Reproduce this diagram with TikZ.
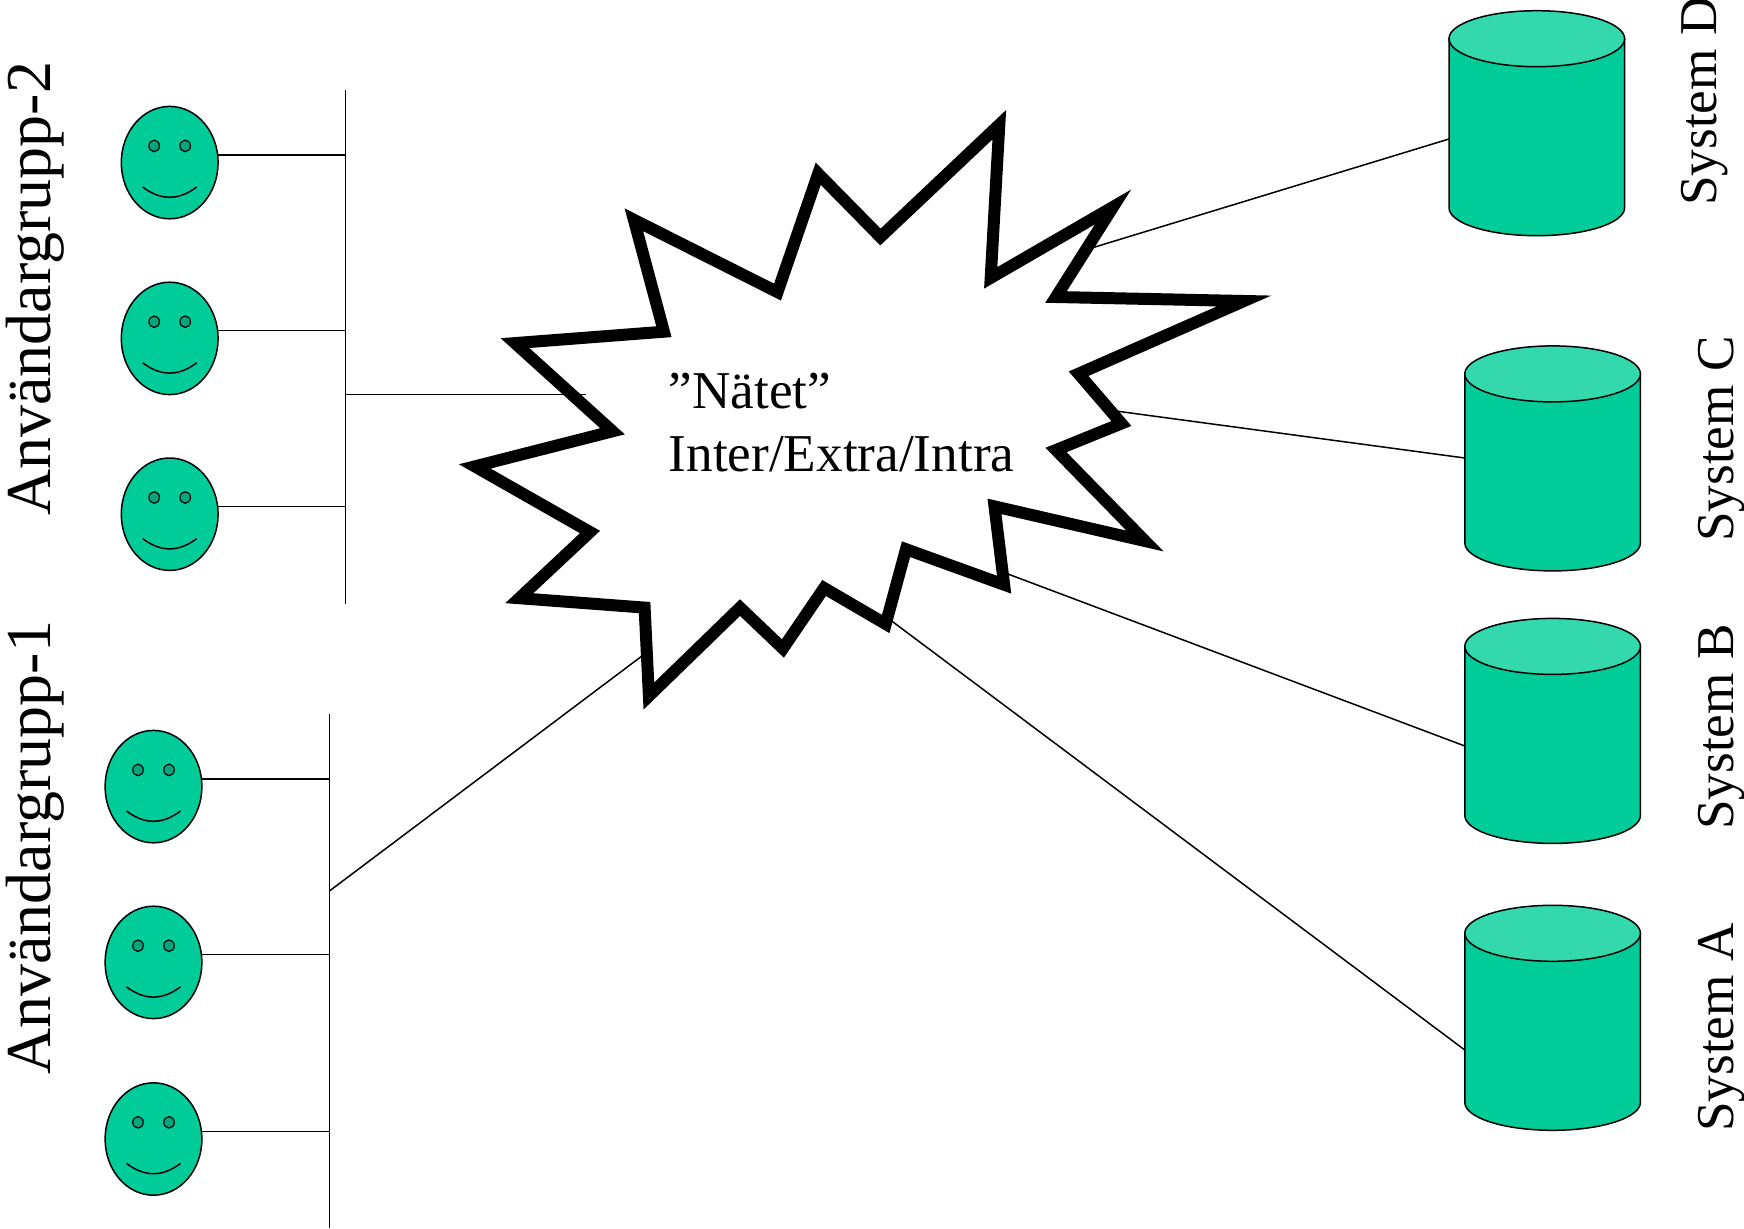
\documentclass[tikz,border=0pt]{standalone}
\usepackage{fontspec}
\setmainfont{Liberation Serif}
\usetikzlibrary{shapes.geometric}
\definecolor{bodygreen}{HTML}{00CC99}
\definecolor{topgreen}{HTML}{33D9AD}
\definecolor{eyegreen}{HTML}{00A67C}
\tikzset{
  wire/.style={black,line width=1.5pt},
  facebody/.style={ellipse,draw=black,fill=bodygreen,line width=1.5pt,minimum width=96.8pt,minimum height=112.4pt,inner sep=0pt},
  eyeball/.style={ellipse,draw=black,fill=eyegreen,line width=1.2pt,minimum width=10.5pt,minimum height=11.5pt,inner sep=0pt},
  cylbody/.style={fill=bodygreen,draw=black,line width=1.5pt},
  cyltop/.style={fill=topgreen,draw=black,line width=1.5pt},
  burst/.style={fill=white,draw=black,line width=12pt,miter limit=20,line join=miter},
  biglabel/.style={font=\fontsize{64}{70}\selectfont,rotate=90,anchor=base west,inner sep=0pt},
  syslabel/.style={font=\fontsize{53.2}{60}\selectfont,rotate=90,anchor=base west,inner sep=0pt},
  nettext/.style={font=\fontsize{53.2}{63}\selectfont,align=left,anchor=west,inner sep=0pt}
}
% face: name, x, y
\newcommand{\SmileFace}[3]{%
  \node[facebody] (#1) at (#2,#3) {};
  \node[eyeball] (#1el) at ([shift={(-15.5,-16.7)}]#1.center) {};
  \node[eyeball] (#1er) at ([shift={(15.5,-16.7)}]#1.center) {};
  \coordinate (#1ma) at ([shift={(-27,24.4)}]#1.center);
  \coordinate (#1ca) at ([shift={(-9,38.1)}]#1.center);
  \coordinate (#1cb) at ([shift={(9,38.1)}]#1.center);
  \coordinate (#1mb) at ([shift={(27,24.4)}]#1.center);
  \draw[wire] (#1ma) .. controls (#1ca) and (#1cb) .. (#1mb);
}
% cylinder: name, centre x, top y of the shape
\newcommand{\DataCyl}[3]{%
  \coordinate (#1) at (#2,#3+28);
  \coordinate (#1b) at (#2,#3+197);
  \draw[cylbody] ([xshift=-87.8pt]#1) -- ([xshift=-87.8pt]#1b)
     arc[start angle=180,end angle=360,x radius=87.8pt,y radius=28pt] -- ([xshift=87.8pt]#1) -- cycle;
  \draw[cyltop] (#1) ellipse[x radius=87.8pt,y radius=28pt];
}
\begin{document}
\begin{tikzpicture}[x=1pt,y=-1pt]
\useasboundingbox (0,0) rectangle (1744,1228);

% buses
\coordinate (busTwoTop) at (345.3,90);
\coordinate (busTwoBot) at (345.3,604);
\coordinate (busOneTop) at (329.4,714);
\coordinate (busOneBot) at (329.4,1228);
\draw[wire] (busTwoTop) -- (busTwoBot);
\draw[wire] (busOneTop) -- (busOneBot);

% faces
\SmileFace{fa}{169.7}{162.6}
\SmileFace{fb}{169.7}{338.4}
\SmileFace{fc}{169.7}{514.2}
\SmileFace{fd}{153.5}{786.6}
\SmileFace{fe}{153.5}{962.4}
\SmileFace{ff}{153.5}{1139}

% face connectors
\foreach \f/\b in {fa/busTwoTop,fb/busTwoTop,fc/busTwoTop,fd/busOneTop,fe/busOneTop,ff/busOneTop}{
  \draw[wire] (\f.9.5) -- (\f.9.5 -| \b);
}

% cylinders
\DataCyl{cylD}{1536.8}{10.7}
\DataCyl{cylC}{1552.6}{345.9}
\DataCyl{cylB}{1552.6}{618.4}
\DataCyl{cylA}{1552.6}{905.3}

% connector ends
\coordinate (inD) at (1449,139);
\coordinate (inC) at (1464.8,458);
\coordinate (inB) at (1464.8,746);
\coordinate (inA) at (1464.8,1050);
\coordinate (outD) at (1090,248.5);
\coordinate (outC) at (1112,410.5);
\coordinate (outB) at (1000,571);
\coordinate (outA) at (887,617.5);
\coordinate (outU) at (645,653.7);
\coordinate (busOneOut) at (329.4,891);
\coordinate (busTwoOut) at (345.3,394.5);
\coordinate (inNet) at (585.7,394.5);

\draw[wire] (outD) -- (inD);
\draw[wire] (outC) -- (inC);
\draw[wire] (outB) -- (inB);
\draw[wire] (outA) -- (inA);
\draw[wire] (busOneOut) -- (outU);

% burst
\draw[burst] (633.9,219.8) -- (777.5,292.1) -- (818.2,173.7) -- (880.4,237) -- (999.3,124.7)
  -- (990.7,277.8) -- (1113,207) -- (1056,297) -- (1244,301) -- (1078.6,373.7)
  -- (1121.4,423.5) -- (1056,450) -- (1145,541) -- (994.5,506.4) -- (1004.1,584.7)
  -- (906,549.2) -- (885.7,624) -- (824.1,588) -- (782.9,648.5) -- (740,607.6)
  -- (648.9,696) -- (644.6,607.6) -- (519.3,598.2) -- (590,532) -- (474.8,466.4)
  -- (612.5,431.3) -- (515,343.1) -- (663.9,331.7) -- cycle;

\draw[wire] (busTwoOut) -- (inNet);

\node[nettext] (net) at (668.5,423) {”Nätet”\\Inter/Extra/Intra};

\node[biglabel] (grpTwo) at (50,516) {Användargrupp-2};
\node[biglabel] (grpOne) at (50,1075) {Användargrupp-1};
\node[syslabel] (sysD) at (1716,206) {System D};
\node[syslabel] (sysC) at (1733,542) {System C};
\node[syslabel] (sysB) at (1733,830) {System B};
\node[syslabel] (sysA) at (1733,1132) {System A};
\end{tikzpicture}
\end{document}
